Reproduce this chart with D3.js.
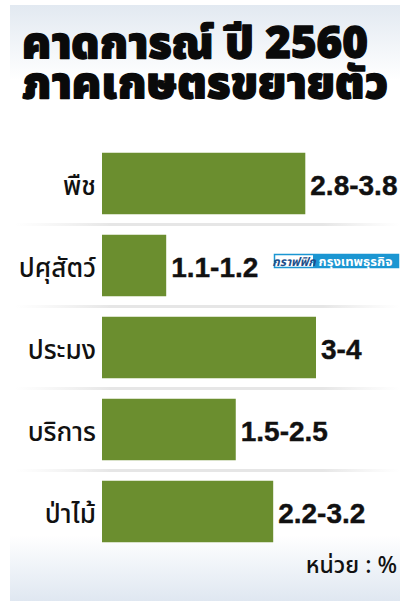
<!DOCTYPE html>
<html><head><meta charset="utf-8">
<script src="https://cdn.jsdelivr.net/npm/d3@7"></script>
<style>
html,body{margin:0;padding:0;background:#fff;}
svg{display:block;}
</style></head>
<body>
<svg id="c" width="409" height="603"></svg>
<script>
const titleLines = ["คาดการณ์ ปี 2560", "ภาคเกษตรขยายตัว"];
const categories = ["พืช", "ปศุสัตว์", "ประมง", "บริการ", "ป่าไม้"];
const lowValues = [2.8, 1.1, 3, 1.5, 2.2];
const highValues = [3.8, 1.2, 4, 2.5, 3.2];
const unitLabel = "หน่วย : %";
const badgeLeft = "กราฟฟิก";
const badgeRight = "กรุงเทพธุรกิจ";

const fmt = v => String(v);
const rows = categories.map((c, i) => ({cat: c, lo: lowValues[i], hi: highValues[i], label: fmt(lowValues[i]) + "-" + fmt(highValues[i])}));

const svg = d3.select("#c");
const thai = "'Noto Sans Thai','Noto Sans','Liberation Sans',sans-serif";
const defs = svg.append("defs");
const gTop = defs.append("linearGradient").attr("id","gtop").attr("x1",0).attr("y1",0).attr("x2",0).attr("y2",1);
gTop.append("stop").attr("offset","0%").attr("stop-color","#e2e9f1");
gTop.append("stop").attr("offset","100%").attr("stop-color","#ffffff");
const gBot = defs.append("linearGradient").attr("id","gbot").attr("x1",0).attr("y1",0).attr("x2",0).attr("y2",1);
gBot.append("stop").attr("offset","0%").attr("stop-color","#ffffff");
gBot.append("stop").attr("offset","100%").attr("stop-color","#dfe7f1");
const gSep = defs.append("linearGradient").attr("id","gsep").attr("x1",0).attr("y1",0).attr("x2",1).attr("y2",0);
gSep.append("stop").attr("offset","0%").attr("stop-color","#ececec").attr("stop-opacity",0);
gSep.append("stop").attr("offset","25%").attr("stop-color","#e6e6e6").attr("stop-opacity",1);
gSep.append("stop").attr("offset","80%").attr("stop-color","#e6e6e6").attr("stop-opacity",1);
gSep.append("stop").attr("offset","100%").attr("stop-color","#ececec").attr("stop-opacity",0);

// panel background
svg.append("rect").attr("x",10).attr("y",5).attr("width",390).attr("height",596).attr("fill","#fff");
svg.append("rect").attr("x",10).attr("y",5).attr("width",390).attr("height",75).attr("fill","url(#gtop)");
svg.append("rect").attr("x",10).attr("y",535).attr("width",390).attr("height",66).attr("fill","url(#gbot)");

// title (one text, two lines)
const titleWidths = [346, 366];
const t = svg.append("text")
  .attr("font-family",thai).attr("font-weight",900).attr("font-size",45)
  .attr("fill","#0a0a0a").attr("stroke","#0a0a0a").attr("stroke-width",1.3).attr("stroke-linejoin","round");
t.selectAll("tspan").data(titleLines).join("tspan")
  .attr("x",22).attr("y",(d,i)=>58 + i*40)
  .attr("textLength",(d,i)=>titleWidths[i]).attr("lengthAdjust","spacingAndGlyphs")
  .text(d=>d);

const x = d3.scaleLinear().domain([0,4]).range([102,316]);
const y = d3.scaleBand().domain(categories).range([142.5,552.5]).paddingInner(0.25).paddingOuter(0.125);

// separators
const sepYs = categories.slice(1).map(c => y(c) - y.step()*y.paddingInner()/2);
svg.append("g").selectAll("rect").data(sepYs).join("rect")
  .attr("x",15).attr("y",d=>d-1.5).attr("width",385).attr("height",3).attr("fill","url(#gsep)");

const g = svg.append("g");
g.selectAll("rect.bar").data(rows).join("rect").attr("class","bar")
  .attr("x",x(0)).attr("y",d=>y(d.cat)).attr("width",d=>x(d.hi)-x(0)).attr("height",y.bandwidth())
  .attr("fill","#6b8e2f");

g.selectAll("text.cat").data(rows).join("text").attr("class","cat")
  .attr("x",96).attr("y",d=>y(d.cat)+y.bandwidth()/2+11)
  .attr("text-anchor","end").attr("font-family",thai).attr("font-weight",500).attr("font-size",26)
  .attr("fill","#111").text(d=>d.cat);

g.selectAll("text.val").data(rows).join("text").attr("class","val")
  .attr("x",d=>x(d.hi)+5).attr("y",d=>y(d.cat)+y.bandwidth()/2+11)
  .attr("font-family","'Liberation Sans',Arial,sans-serif").attr("font-weight",700).attr("font-size",28)
  .attr("fill","#111").attr("stroke","#111").attr("stroke-width",0.4).text(d=>d.label);

// badge
const b = svg.append("g");
b.append("rect").attr("x",274.5).attr("y",254.5).attr("width",124).attr("height",13).attr("fill","#fff").attr("stroke","#1b96d2").attr("stroke-width",1.5);
b.append("rect").attr("x",313).attr("y",254.5).attr("width",85.5).attr("height",13).attr("fill","#1b96d2");
b.append("text").attr("x",294).attr("y",265.5).attr("text-anchor","middle").attr("font-family",thai).attr("font-style","italic").attr("font-weight",700).attr("font-size",12).attr("fill","#1d4f8a").text(badgeLeft);
b.append("text").attr("x",355.5).attr("y",265.5).attr("text-anchor","middle").attr("font-family",thai).attr("font-weight",700).attr("font-size",13).attr("fill","#fff").text(badgeRight);

// unit
svg.append("text").attr("x",397).attr("y",573).attr("text-anchor","end")
  .attr("font-family",thai).attr("font-weight",500).attr("font-size",23).attr("fill","#111").text(unitLabel);
</script>
</body></html>
